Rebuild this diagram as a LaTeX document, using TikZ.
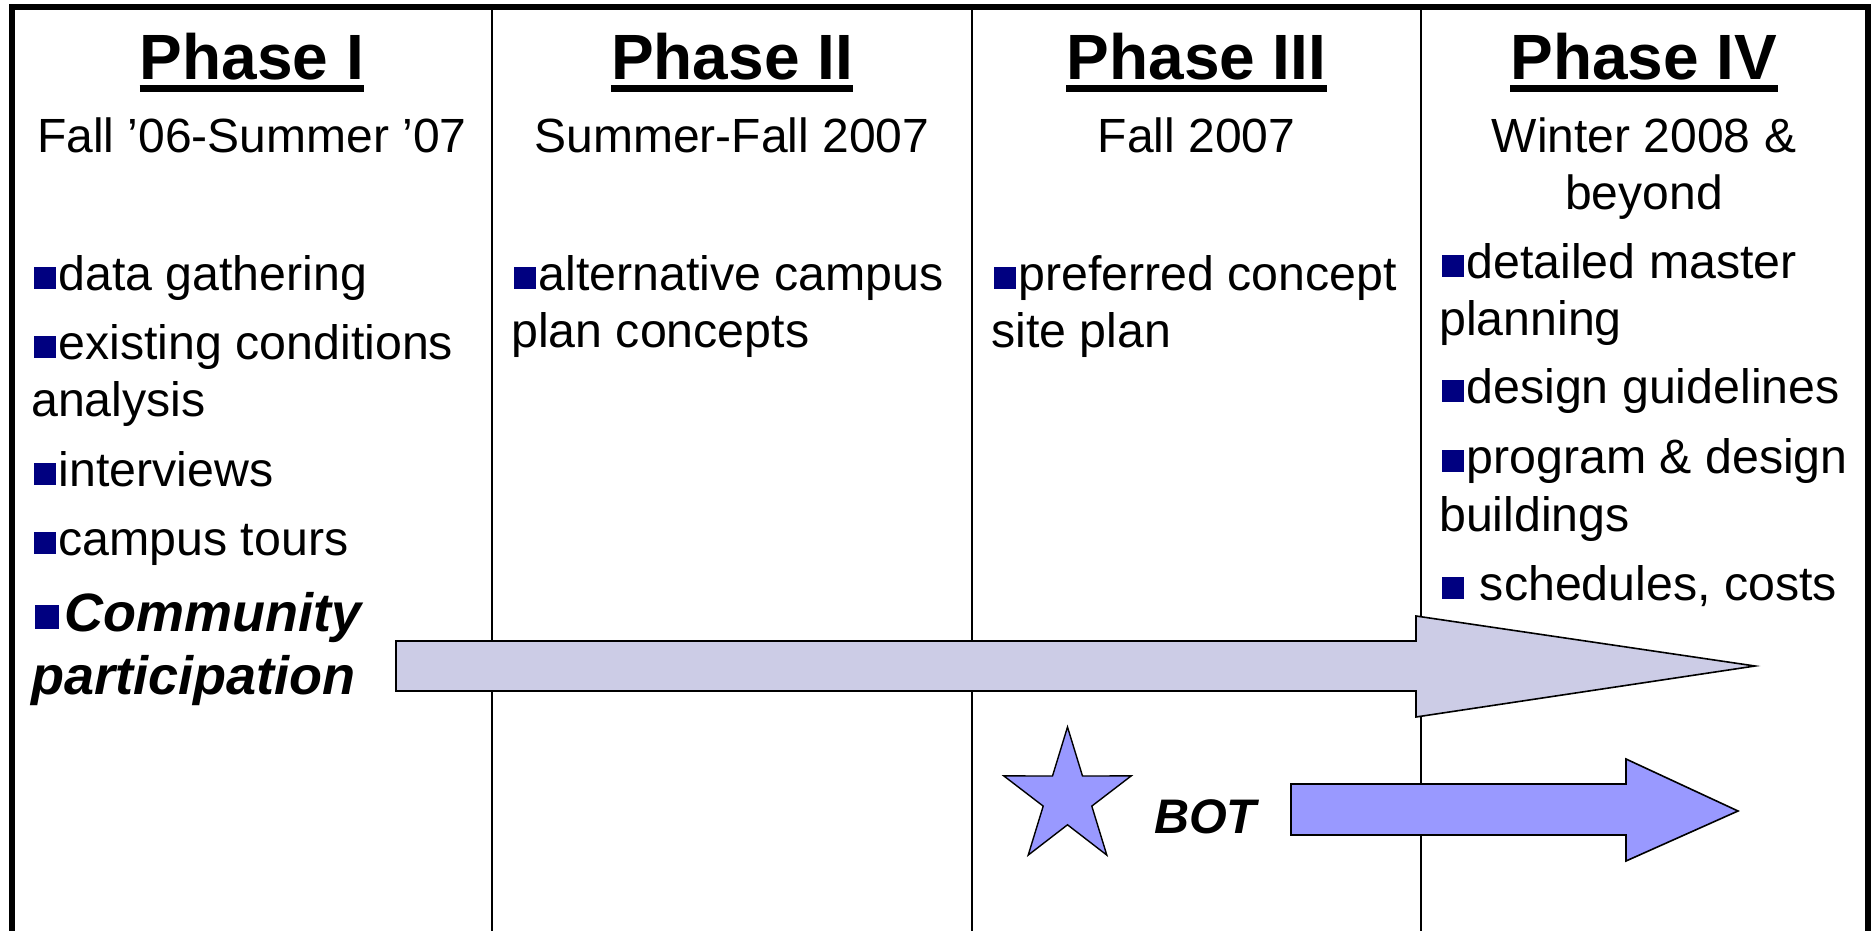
\documentclass[tikz,border=0pt]{standalone}
\usepackage{fontspec}
\setmainfont{Liberation Sans}
\definecolor{bulnavy}{HTML}{000080}
\definecolor{arrowA}{HTML}{CCCCE6}
\definecolor{arrowB}{HTML}{9999FF}
\newcommand{\bul}{\kern0.065em\raisebox{0.03em}{\textcolor{bulnavy}{\rule{0.45em}{0.45em}}}\kern0.05em}
\begin{document}
\begin{tikzpicture}[x=1pt,y=-1pt,
  headsty/.style={font=\fontsize{64}{77}\selectfont\bfseries, inner sep=0, anchor=base},
  datesty/.style={font=\fontsize{48}{57}\selectfont, inner sep=0, anchor=base},
  itemsty/.style={font=\fontsize{48.3}{57}\selectfont, inner sep=0, anchor=base west},
  emphsty/.style={font=\fontsize{54}{63}\selectfont\bfseries\itshape, inner sep=0, anchor=base west},
  botsty/.style={font=\fontsize{48.5}{58}\selectfont\bfseries\itshape, inner sep=0, anchor=base west},
  uline/.style={line width=6.5pt},
  framesty/.style={line width=6pt},
  divsty/.style={line width=2pt},
  bigarrow/.style={draw=black, line width=1.6pt, fill=arrowA, line join=miter},
  smallarrow/.style={draw=black, line width=1.6pt, fill=arrowB, line join=miter},
  starsty/.style={draw=black, line width=1.4pt, fill=arrowB, line join=miter}
]
\useasboundingbox (0,0) rectangle (1875,931);
\fill[white] (0,0) rectangle (1875,931);

% frame and dividers
\draw[framesty] (12,935) -- (12,7) -- (1867.5,7) -- (1867.5,935);
\draw[divsty] (492,7) -- (492,935);
\draw[divsty] (972,7) -- (972,935);
\draw[divsty] (1421,7) -- (1421,935);

% arrows
\draw[bigarrow] (396,641) -- (1416,641) -- (1416,616) -- (1755,666) -- (1416,717) -- (1416,691) -- (396,691) -- cycle;
\draw[smallarrow] (1291,784) -- (1626,784) -- (1626,759) -- (1738,811) -- (1626,861) -- (1626,835) -- (1291,835) -- cycle;

% star
\draw[starsty] (1067.5,727.0) -- (1082.5,776.0) -- (1131.2,775.9) -- (1091.8,806.1)
  -- (1106.8,855.1) -- (1067.5,824.8) -- (1028.2,855.1) -- (1043.2,806.1)
  -- (1003.8,775.9) -- (1052.5,776.0) -- cycle;

% headings
\node[headsty] (h1) at (252,80) {Phase I};
\node[headsty] (h2) at (732,80) {Phase II};
\node[headsty] (h3) at (1196.5,80) {Phase III};
\node[headsty] (h4) at (1644,80) {Phase IV};
\foreach \h in {h1,h2,h3,h4}
  \draw[uline] ([yshift=-8.5pt]\h.base west) -- ([yshift=-8.5pt]\h.base east);

% dates
\node[datesty] (d1) at (252,152.5) {Fall ’06-Summer ’07};
\node[datesty] (d2) at (732,152.5) {Summer-Fall 2007};
\node[datesty] (d3) at (1196.5,152.5) {Fall 2007};
\node[datesty] (d4a) at (1644,152.5) {Winter 2008 \&};
\node[datesty] (d4b) at (1644,209.5) {beyond};

% column 1
\node[itemsty] (a1) at (31,290) {\bul data gathering};
\node[itemsty] (a2) at (31,359) {\bul existing conditions};
\node[itemsty] (a3) at (31,416) {analysis};
\node[itemsty] (a4) at (31,486) {\bul interviews};
\node[itemsty] (a5) at (31,555) {\bul campus tours};
\node[emphsty] (a6) at (31,631) {\bul\kern0.06em Community};
\node[emphsty] (a7) at (31,694) {participation};

% column 2
\node[itemsty] (b1) at (511,290) {\bul alternative campus};
\node[itemsty] (b2) at (511,347) {plan concepts};

% column 3
\node[itemsty] (c1) at (991,290) {\bul preferred concept};
\node[itemsty] (c2) at (991,347) {site plan};

% column 4
\node[itemsty] (e1) at (1439,278.5) {\bul detailed master};
\node[itemsty] (e2) at (1439,335.5) {planning};
\node[itemsty] (e3) at (1439,403.5) {\bul design guidelines};
\node[itemsty] (e4) at (1439,473.5) {\bul program \& design};
\node[itemsty] (e5) at (1439,531.5) {buildings};
\node[itemsty] (e6) at (1439,600.5) {\bul{} schedules, costs};

% BOT
\node[botsty] (bot) at (1154,833) {BOT};
\end{tikzpicture}
\end{document}
